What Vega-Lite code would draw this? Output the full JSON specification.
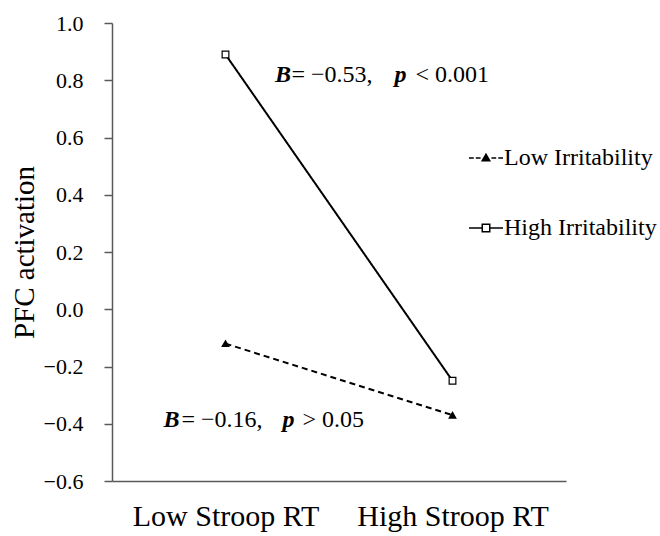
{
  "$schema": "https://vega.github.io/schema/vega-lite/v6.json",
  "width": 454,
  "height": 458,
  "autosize": {"type": "none"},
  "padding": {"left": 112, "top": 23, "right": 94, "bottom": 55},
  "background": "white",
  "config": {
    "view": {"stroke": null},
    "font": "Liberation Serif",
    "axis": {"labelFont": "Liberation Serif", "titleFont": "Liberation Serif", "labelColor": "black", "titleColor": "black", "grid": false},
    "axisY": {"labelFontSize": 22, "labelPadding": 21, "tickSize": 8},
    "axisX": {"labelFontSize": 30, "labelLimit": 400}
  },
  "datasets": {
    "points": [
      {"cond": "Low Stroop RT", "group": "Low Irritability", "pfc": -0.12},
      {"cond": "High Stroop RT", "group": "Low Irritability", "pfc": -0.37},
      {"cond": "Low Stroop RT", "group": "High Irritability", "pfc": 0.89},
      {"cond": "High Stroop RT", "group": "High Irritability", "pfc": -0.25}
    ],
    "notes": [
      {"note": "high", "cond": "Low Stroop RT", "pfc": 0.794, "b": "B", "eq": "= −0.53,", "p": "p", "rel": "< 0.001"},
      {"note": "low", "cond": "Low Stroop RT", "pfc": -0.411, "b": "B", "eq": "= −0.16,", "p": "p", "rel": "> 0.05"}
    ]
  },
  "encoding": {
    "x": {
      "field": "cond",
      "type": "nominal",
      "sort": ["Low Stroop RT", "High Stroop RT"],
      "scale": {"type": "point", "padding": 0.5, "domain": ["Low Stroop RT", "High Stroop RT"]},
      "axis": {
        "title": null,
        "labelAngle": 0,
        "ticks": false,
        "tickSize": 0,
        "labelPadding": 20,
        "labelFont": "Liberation Serif",
        "labelFontSize": 30,
        "labelLimit": 400,
        "labelColor": "black",
        "domainColor": "#595959",
        "domainWidth": 1.5,
        "grid": false
      }
    },
    "y": {
      "field": "pfc",
      "type": "quantitative",
      "scale": {"domain": [-0.6, 1.0], "nice": false, "zero": false},
      "axis": {
        "title": "PFC activation",
        "titleFont": "Liberation Serif",
        "titleFontSize": 29,
        "titleFontWeight": "normal",
        "titleColor": "black",
        "titlePadding": 4,
        "values": [-0.6, -0.4, -0.2, 0, 0.2, 0.4, 0.6, 0.8, 1.0],
        "format": ".1f",
        "labelFont": "Liberation Serif",
        "labelFontSize": 22,
        "labelColor": "black",
        "labelPadding": 21,
        "tickSize": 8,
        "tickColor": "#595959",
        "tickWidth": 1.5,
        "domainColor": "#595959",
        "domainWidth": 1.5,
        "grid": false
      }
    }
  },
  "layer": [
    {
      "data": {"name": "points"},
      "mark": {"type": "line", "color": "black", "strokeWidth": 2},
      "encoding": {
        "detail": {"field": "group"},
        "strokeDash": {
          "field": "group",
          "type": "nominal",
          "scale": {"domain": ["Low Irritability", "High Irritability"], "range": [[6, 4], [1, 0]]},
          "legend": null
        }
      }
    },
    {
      "data": {"name": "points"},
      "mark": {"type": "point", "filled": false, "stroke": "black", "strokeWidth": 1.2, "size": 45, "opacity": 1},
      "encoding": {
        "shape": {
          "field": "group",
          "type": "nominal",
          "scale": {"domain": ["Low Irritability", "High Irritability"], "range": ["triangle-up", "square"]},
          "legend": null
        },
        "fill": {
          "field": "group",
          "type": "nominal",
          "scale": {"domain": ["Low Irritability", "High Irritability"], "range": ["black", "white"]},
          "legend": null
        }
      }
    },
    {
      "data": {"name": "points"},
      "transform": [{"filter": "false"}],
      "mark": {"type": "point", "filled": true, "stroke": "black", "strokeWidth": 1.5, "opacity": 1},
      "encoding": {
        "shape": {
          "field": "group",
          "type": "nominal",
          "scale": {
            "domain": ["Low Irritability", "High Irritability"],
            "range": [
              "M-1,0H-0.72M-0.6,0H-0.32M-0.22,0.16L0,-0.22L0.22,0.16ZM0.32,0H0.6M0.72,0H1",
              "M-1,0H-0.22M0.22,0H1M-0.22,-0.22H0.22V0.22H-0.22Z"
            ]
          },
          "legend": {
            "title": null,
            "orient": "none",
            "legendX": 356,
            "legendY": 117,
            "padding": 0,
            "symbolSize": 1156,
            "symbolStrokeColor": "black",
            "symbolStrokeWidth": 1.5,
            "labelFont": "Liberation Serif",
            "labelFontSize": 24,
            "labelColor": "black",
            "labelOffset": 0,
            "rowPadding": 40,
            "labelLimit": 300
          }
        },
        "color": {
          "field": "group",
          "type": "nominal",
          "scale": {"domain": ["Low Irritability", "High Irritability"], "range": ["black", "white"]},
          "legend": {
            "title": null,
            "orient": "none",
            "legendX": 356,
            "legendY": 117,
            "padding": 0,
            "symbolSize": 1156,
            "symbolStrokeColor": "black",
            "symbolStrokeWidth": 1.5,
            "labelFont": "Liberation Serif",
            "labelFontSize": 24,
            "labelColor": "black",
            "labelOffset": 0,
            "rowPadding": 40,
            "labelLimit": 300
          }
        }
      }
    },
    {
      "data": {"name": "notes"},
      "transform": [{"filter": "datum.note == 'high'"}],
      "mark": {"type": "text", "align": "left", "baseline": "alphabetic", "dx": 49.5, "font": "Liberation Serif", "fontSize": 24, "fontWeight": "bold", "fontStyle": "italic", "color": "black"},
      "encoding": {"text": {"field": "b"}}
    },
    {
      "data": {"name": "notes"},
      "transform": [{"filter": "datum.note == 'high'"}],
      "mark": {"type": "text", "align": "left", "baseline": "alphabetic", "dx": 66, "font": "Liberation Serif", "fontSize": 24, "color": "black"},
      "encoding": {"text": {"field": "eq"}}
    },
    {
      "data": {"name": "notes"},
      "transform": [{"filter": "datum.note == 'high'"}],
      "mark": {"type": "text", "align": "left", "baseline": "alphabetic", "dx": 169, "font": "Liberation Serif", "fontSize": 24, "fontWeight": "bold", "fontStyle": "italic", "color": "black"},
      "encoding": {"text": {"field": "p"}}
    },
    {
      "data": {"name": "notes"},
      "transform": [{"filter": "datum.note == 'high'"}],
      "mark": {"type": "text", "align": "left", "baseline": "alphabetic", "dx": 190, "font": "Liberation Serif", "fontSize": 24, "color": "black"},
      "encoding": {"text": {"field": "rel"}}
    },
    {
      "data": {"name": "notes"},
      "transform": [{"filter": "datum.note == 'low'"}],
      "mark": {"type": "text", "align": "left", "baseline": "alphabetic", "dx": -62, "font": "Liberation Serif", "fontSize": 24, "fontWeight": "bold", "fontStyle": "italic", "color": "black"},
      "encoding": {"text": {"field": "b"}}
    },
    {
      "data": {"name": "notes"},
      "transform": [{"filter": "datum.note == 'low'"}],
      "mark": {"type": "text", "align": "left", "baseline": "alphabetic", "dx": -44, "font": "Liberation Serif", "fontSize": 24, "color": "black"},
      "encoding": {"text": {"field": "eq"}}
    },
    {
      "data": {"name": "notes"},
      "transform": [{"filter": "datum.note == 'low'"}],
      "mark": {"type": "text", "align": "left", "baseline": "alphabetic", "dx": 57, "font": "Liberation Serif", "fontSize": 24, "fontWeight": "bold", "fontStyle": "italic", "color": "black"},
      "encoding": {"text": {"field": "p"}}
    },
    {
      "data": {"name": "notes"},
      "transform": [{"filter": "datum.note == 'low'"}],
      "mark": {"type": "text", "align": "left", "baseline": "alphabetic", "dx": 77, "font": "Liberation Serif", "fontSize": 24, "color": "black"},
      "encoding": {"text": {"field": "rel"}}
    }
  ],
  "resolve": {"scale": {"shape": "independent", "fill": "independent", "color": "independent"}}
}
